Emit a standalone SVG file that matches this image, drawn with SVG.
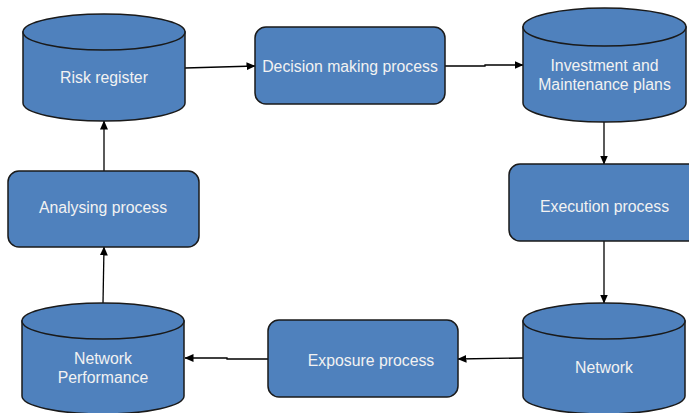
<svg xmlns="http://www.w3.org/2000/svg" width="689" height="413" viewBox="0 0 689 413">
<style>
.shape{fill:#4F81BD;stroke:#1a1a1a;stroke-width:1.5}
.lbl{font-family:"Liberation Sans",Arial,sans-serif;font-size:15.8px;fill:#F2F2F2;text-anchor:middle}
.conn{fill:none;stroke:#000;stroke-width:1.3}
</style>
<defs>
<marker id="arr" markerWidth="9" markerHeight="8" refX="8.5" refY="4" orient="auto" markerUnits="userSpaceOnUse">
<path d="M0,0 L9,4 L0,8 Z" fill="#000"/>
</marker>
</defs>
<rect width="689" height="413" fill="#fff"/>
<g id="connectors">
<path class="conn" d="M185,68 L255,66" marker-end="url(#arr)"/>
<path class="conn" d="M445,66 L485,66 L485,65 L523,65" marker-end="url(#arr)"/>
<path class="conn" d="M604,122 L604,164" marker-end="url(#arr)"/>
<path class="conn" d="M604,241 L604,303" marker-end="url(#arr)"/>
<path class="conn" d="M523,358 L458,359" marker-end="url(#arr)"/>
<path class="conn" d="M268,359 L227,359 L227,358 L185,358" marker-end="url(#arr)"/>
<path class="conn" d="M103,303 L104,247" marker-end="url(#arr)"/>
<path class="conn" d="M104,171 L104,121" marker-end="url(#arr)"/>
</g>
<g id="risk-register">
<path class="shape" d="M23,32 L23,103 A81,18 0 0 0 185,103 L185,32 Z"/>
<ellipse class="shape" cx="104" cy="32" rx="81" ry="18"/>
<text class="lbl" x="104" y="83">Risk register</text>
</g>
<g id="decision-making">
<rect class="shape" x="255" y="27" width="190" height="77" rx="11"/>
<text class="lbl" x="350" y="72">Decision making process</text>
</g>
<g id="investment-plans">
<path class="shape" d="M523,27 L523,103 A81.5,19 0 0 0 686,103 L686,27 Z"/>
<ellipse class="shape" cx="604.5" cy="27" rx="81.5" ry="19"/>
<text class="lbl" x="604.5" y="71">Investment and</text>
<text class="lbl" x="604.5" y="90">Maintenance plans</text>
</g>
<g id="execution">
<rect class="shape" x="509" y="164" width="195" height="77" rx="11"/>
<text class="lbl" x="604.5" y="212">Execution process</text>
</g>
<g id="network">
<path class="shape" d="M523,321 L523,396 A81,18 0 0 0 685,396 L685,321 Z"/>
<ellipse class="shape" cx="604" cy="321" rx="81" ry="18"/>
<text class="lbl" x="604" y="373">Network</text>
</g>
<g id="exposure">
<rect class="shape" x="268" y="320" width="190" height="77" rx="11"/>
<text class="lbl" x="371" y="366">Exposure process</text>
</g>
<g id="network-performance">
<path class="shape" d="M22,321 L22,396 A81,18 0 0 0 184,396 L184,321 Z"/>
<ellipse class="shape" cx="103" cy="321" rx="81" ry="18"/>
<text class="lbl" x="103" y="364">Network</text>
<text class="lbl" x="103" y="383">Performance</text>
</g>
<g id="analysing">
<rect class="shape" x="8" y="171" width="191" height="76" rx="11"/>
<text class="lbl" x="103" y="213">Analysing process</text>
</g>
</svg>
